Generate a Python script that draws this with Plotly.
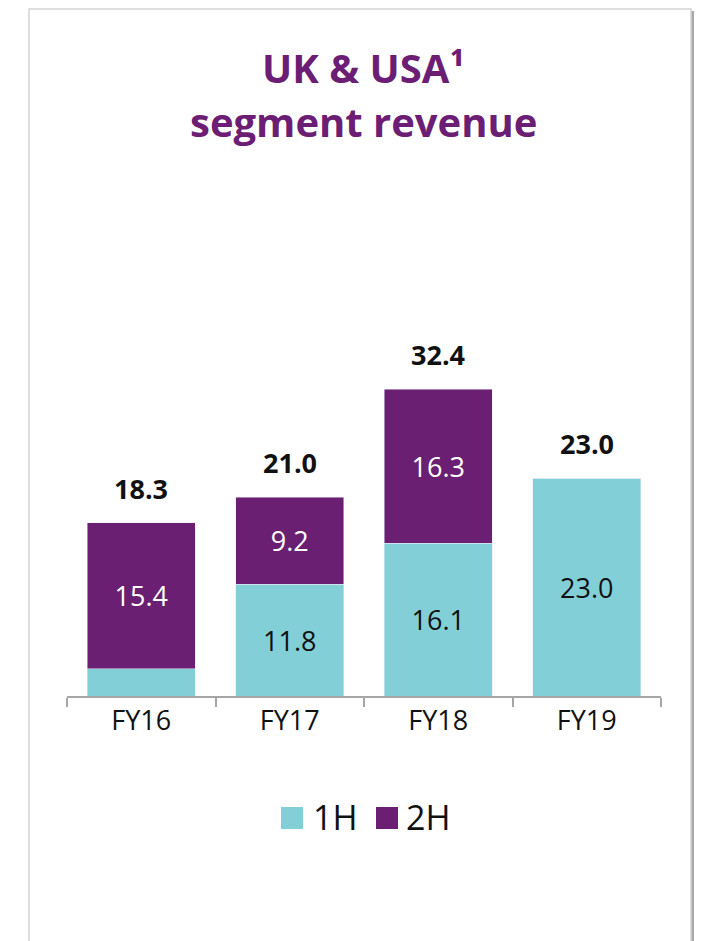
import plotly.graph_objects as go

categories = ["FY16", "FY17", "FY18", "FY19"]
first_half = [2.9, 11.8, 16.1, 23.0]
second_half = [15.4, 9.2, 16.3, 0.0]
first_half_labels = ["", "11.8", "16.1", "23.0"]
second_half_labels = ["15.4", "9.2", "16.3", ""]
series_names = ["1H", "2H"]

TEAL = "#82CFD8"
PURPLE = "#6A1F72"
FONT = "Open Sans"

totals = [a + b for a, b in zip(first_half, second_half)]

# the page adds an 8px body margin, so the figure is drawn 8px smaller
OFF = 8
W, H = 702 - OFF, 941 - OFF
L, R, T, B = 67, 661, 317, 696  # plot area in reference pixels


def px(p):
    return (p - L) / (R - L)


def py(p):
    return (B - p) / (B - T)


fig = go.Figure()
fig.add_trace(go.Bar(
    x=categories, y=first_half, name=series_names[0], marker_color=TEAL,
    text=first_half_labels, textposition="inside", insidetextanchor="middle",
    textfont=dict(color="#111111", size=27, family=FONT), width=0.73,
    showlegend=False,
))
fig.add_trace(go.Bar(
    x=categories, y=second_half, name=series_names[1], marker_color=PURPLE,
    text=second_half_labels, textposition="inside", insidetextanchor="middle",
    textfont=dict(color="white", size=27, family=FONT), width=0.73,
    showlegend=False,
))

for c, t in zip(categories, totals):
    fig.add_annotation(x=c, y=t, xref="x", yref="y", text="<b>%.1f</b>" % t,
                       showarrow=False, yanchor="bottom", yshift=14,
                       font=dict(size=27, color="#111111", family=FONT))

# card with shadow
shapes = [
    dict(type="rect", xref="paper", yref="paper", x0=px(33), x1=px(697), y0=py(960), y1=py(12),
         fillcolor="#cfcfcf", line=dict(width=0), layer="below"),
    dict(type="rect", xref="paper", yref="paper", x0=px(31), x1=px(695), y0=py(960), y1=py(11),
         fillcolor="#a9a9a9", line=dict(width=0), layer="below"),
    dict(type="rect", xref="paper", yref="paper", x0=px(29), x1=px(691), y0=py(960), y1=py(9),
         fillcolor="white", line=dict(width=1.5, color="#d4d4d4"), layer="below"),
]

# legend
leg = [(281, 303, TEAL, series_names[0], 311), (376, 398, PURPLE, series_names[1], 404)]
for x0, x1, col, name, tx in leg:
    shapes.append(dict(type="rect", xref="paper", yref="paper", x0=px(x0), x1=px(x1),
                       y0=py(829), y1=py(807), fillcolor=col, line=dict(width=0)))
    fig.add_annotation(x=px(tx), y=py(817), xref="paper", yref="paper", text=name,
                       showarrow=False, xanchor="left", yanchor="middle",
                       font=dict(size=34, color="#111111", family=FONT))

fig.add_annotation(x=px(363), y=py(67), xref="paper", yref="paper", text="<b>UK &amp; USA¹</b>",
                   showarrow=False, xanchor="center", yanchor="middle",
                   font=dict(size=40, color="#6B1E74", family=FONT))
fig.add_annotation(x=px(363), y=py(122), xref="paper", yref="paper", text="<b>segment revenue</b>",
                   showarrow=False, xanchor="center", yanchor="middle",
                   font=dict(size=40, color="#6B1E74", family=FONT))

fig.update_layout(
    width=W, height=H,
    margin=dict(l=L - OFF, r=W - (R - OFF), t=T - OFF, b=H - (B - OFF), pad=0),
    paper_bgcolor="white", plot_bgcolor="rgba(0,0,0,0)",
    barmode="stack", bargap=0.27,
    shapes=shapes,
    font=dict(family=FONT, color="#111111"),
    xaxis=dict(showline=True, linecolor="#a6a6a6", linewidth=2, ticks="outside",
               tickson="boundaries", ticklen=9, tickcolor="#a6a6a6", tickwidth=2,
               tickfont=dict(size=27, color="#111111", family=FONT), showgrid=False,
               range=[-0.5, 3.5]),
    yaxis=dict(visible=False, range=[0, 40], showgrid=False, zeroline=False),
)

fig.write_html("out.html")
